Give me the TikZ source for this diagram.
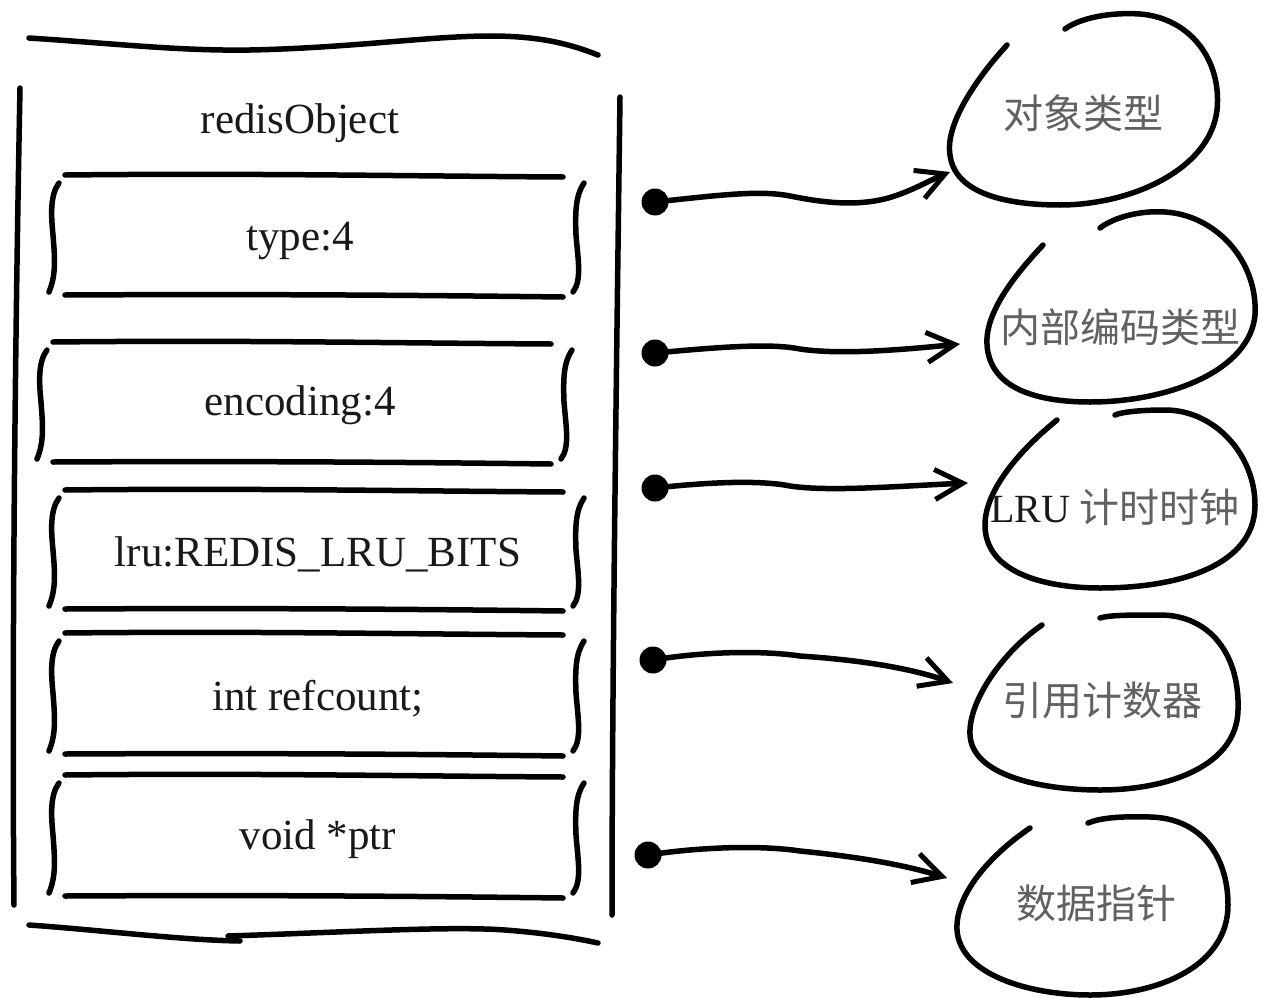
\documentclass[tikz,border=0pt]{standalone}
\usepackage{fontspec}
\setmainfont{Liberation Serif}
\newfontfamily\cjk{Noto Sans CJK SC}
\usetikzlibrary{arrows.meta}
\begin{document}
\begin{tikzpicture}[x=1pt,y=-1pt,
  ink/.style={line width=5.5pt, line cap=round, line join=round, black},
  lbl/.style={font=\fontsize{43}{50}\selectfont, inner sep=0pt, anchor=base, text=black!90},
  cjklbl/.style={font=\cjk\fontsize{40}{48}\selectfont, inner sep=0pt, anchor=base, text=black!62},
  dot/.style={circle, fill=black, minimum size=27pt, inner sep=0pt},
  link/.style={ink, -{Straight Barb[length=28pt,width=30pt,line width=5pt]}},
]
\fill[white] (0,0) rectangle (1263,998);
\useasboundingbox (0,0) rectangle (1263,998);

% ---- outer redisObject frame ----
\draw[ink] (29,38) .. controls (120,44) and (180,51) .. (250,50)
           .. controls (350,48) and (430,36) .. (490,36)
           .. controls (540,36) and (570,44) .. (598,55);
\draw[ink] (20,88) .. controls (14,400) and (12,700) .. (14,905);
\draw[ink] (620,97) .. controls (616,400) and (612,700) .. (612,915);
\draw[ink] (29,925) .. controls (100,930) and (180,940) .. (240,941);
\draw[ink] (228,936) .. controls (350,932) and (450,926) .. (505,930)
           .. controls (545,933) and (575,938) .. (598,943);

\node[lbl] (title) at (300,133) {redisObject};

% ---- field boxes ----
\foreach \T/\B/\dx in {175/295/0, 342/462/-12, 490/609/0, 633/754/0, 775/896/0}{
  \draw[ink] (65+\dx,\T) .. controls (250+\dx,\T-2) and (400+\dx,\T+1) .. (563+\dx,\T+2);
  \draw[ink] (65+\dx,\B) .. controls (250+\dx,\B-1) and (400+\dx,\B) .. (563+\dx,\B+2);
  \draw[ink] (59+\dx,\T+8) .. controls (50+\dx,\T+20) and (51+\dx,\T+40) .. (53+\dx,\T+60)
             .. controls (55+\dx,\B-35) and (56+\dx,\B-20) .. (49+\dx,\B-3);
  \draw[ink] (584+\dx,\T+8) .. controls (576+\dx,\T+20) and (575+\dx,\T+35) .. (576+\dx,\T+60)
             .. controls (578+\dx,\B-35) and (582+\dx,\B-15) .. (573+\dx,\B-3);
}

\node[lbl] (f1) at (300,250) {type:4};
\node[lbl] (f2) at (300,415) {encoding:4};
\node[lbl] (f3) at (318,566) {lru:REDIS\_LRU\_BITS};
\node[lbl] (f4) at (318,710) {int refcount;};
\node[lbl] (f5) at (318,849) {void *ptr};

% ---- blobs ----
\draw[ink] (1007,45) .. controls (975,80) and (945,125) .. (950,155)
           .. controls (955,195) and (1010,205) .. (1060,205)
           .. controls (1130,205) and (1210,170) .. (1217,110)
           .. controls (1222,60) and (1190,18) .. (1140,14)
           .. controls (1110,12) and (1080,18) .. (1065,29);
\draw[ink] (1043,245) .. controls (1010,280) and (985,315) .. (987,345)
           .. controls (990,390) and (1040,402) .. (1090,402)
           .. controls (1170,402) and (1250,370) .. (1255,315)
           .. controls (1258,260) and (1215,215) .. (1165,212)
           .. controls (1135,210) and (1110,220) .. (1100,228);
\draw[ink] (1057,420) .. controls (1020,450) and (985,490) .. (985,525)
           .. controls (985,575) and (1050,588) .. (1100,588)
           .. controls (1180,588) and (1255,565) .. (1255,505)
           .. controls (1255,455) and (1215,410) .. (1165,410)
           .. controls (1140,410) and (1122,412) .. (1115,415);
\draw[ink] (1042,625) .. controls (1005,650) and (968,700) .. (970,735)
           .. controls (972,775) and (1040,790) .. (1100,790)
           .. controls (1170,790) and (1237,765) .. (1238,710)
           .. controls (1240,655) and (1210,615) .. (1160,615)
           .. controls (1130,615) and (1110,615) .. (1100,618);
\draw[ink] (1030,828) .. controls (990,855) and (955,895) .. (957,930)
           .. controls (960,975) and (1030,995) .. (1090,995)
           .. controls (1160,995) and (1228,965) .. (1228,905)
           .. controls (1228,855) and (1200,818) .. (1150,817)
           .. controls (1120,816) and (1100,818) .. (1088,823);

\node[cjklbl] (b1) at (1083,128) {对象类型};
\node[cjklbl] (b2) at (1120,342) {内部编码类型};
\node[cjklbl] (b3) at (1115,522) {{\fontspec{Liberation Serif}\color{black!90}LRU} 计时时钟};
\node[cjklbl] (b4) at (1102,715) {引用计数器};
\node[cjklbl] (b5) at (1096,918) {数据指针};

% ---- pointers ----
\node[dot] (d1) at (655,202) {};
\node[dot] (d2) at (655,353) {};
\node[dot] (d3) at (655,488) {};
\node[dot] (d4) at (653,660) {};
\node[dot] (d5) at (648,855) {};
\coordinate (e1) at (950,172);
\coordinate (e2) at (960,344);
\coordinate (e3) at (968,483);
\coordinate (e4) at (953,683);
\coordinate (e5) at (947,878);

\draw[link] (d1.center) .. controls (720,195) and (760,190) .. (790,196)
            .. controls (820,202) and (850,206) .. (880,200)
            .. controls (905,195) and (930,180) .. (e1);
\draw[link] (d2.center) .. controls (720,347) and (770,343) .. (800,349)
            .. controls (840,355) and (900,350) .. (e2);
\draw[link] (d3.center) .. controls (710,482) and (760,480) .. (790,486)
            .. controls (830,492) and (900,486) .. (e3);
\draw[link] (d4.center) .. controls (700,652) and (760,650) .. (800,656)
            .. controls (860,660) and (910,668) .. (e4);
\draw[link] (d5.center) .. controls (700,847) and (760,845) .. (800,851)
            .. controls (860,857) and (905,865) .. (e5);
\end{tikzpicture}
\end{document}
